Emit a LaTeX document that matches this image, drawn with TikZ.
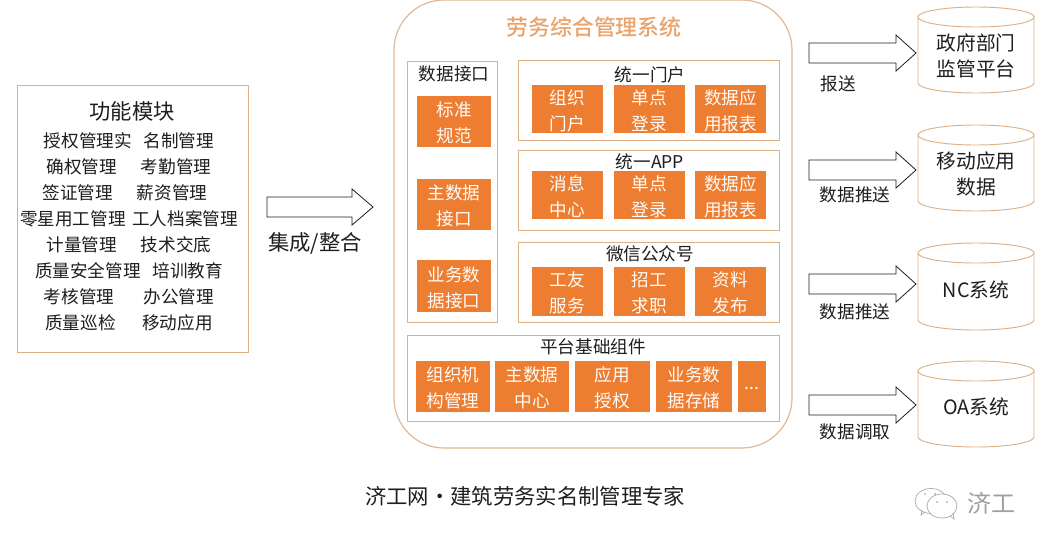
\documentclass[tikz,border=0pt]{standalone}
\usepackage{fontspec}
\setmainfont{Noto Sans CJK SC}[BoldFont=* Medium]
\definecolor{tan}{HTML}{DDB088}
\definecolor{bigtan}{HTML}{E3B994}
\definecolor{org}{HTML}{ED7D31}
\definecolor{ttl}{HTML}{E9A36C}
\definecolor{ink}{HTML}{1E1E1E}
\tikzset{
  x=0.75pt,y=-0.75pt,
  frame/.style={draw=tan,line width=0.6pt,fill=white},
  obox/.style={fill=org,text=white!97!orange,font=\fontsize{13.2}{19.5}\selectfont,align=center,inner sep=0pt},
  txt/.style={text=ink,font=\fontsize{13.2}{19.5}\selectfont,align=center,inner sep=0pt},
  small/.style={text=ink,font=\fontsize{13.2}{18}\selectfont,align=center,inner sep=0pt},
  blockarrow/.style={draw=ink,line width=0.6pt,fill=white},
  can/.style={draw=tan,line width=0.7pt,fill=white},
}
% name x1 y1 x2 y2 text
\newcommand{\obx}[6]{\fill[org] (#2,#3) rectangle (#4,#5);
  \node[obox] (#1) at ({(#2+#4)/2},{(#3+#5)/2+1.5}) {#6};}
\newcommand{\fram}[5]{\draw[frame] (#2,#3) rectangle (#4,#5);
  \coordinate (#1) at ({(#2+#4)/2},{(#3+#5)/2});}
% block arrow: x1 xhead x2 ycenter
\newcommand{\barrow}[4]{\draw[blockarrow] (#1,#4-10) -- (#2,#4-10) -- (#2,#4-18) -- (#3,#4) -- (#2,#4+18) -- (#2,#4+10) -- (#1,#4+10) -- cycle;}
% cylinder: top y, bottom y, name, text y, text
\newcommand{\cann}[5]{\draw[can] (918,#1+10) arc[start angle=180,end angle=0,x radius=58,y radius=10] -- (1034,#2-10) arc[start angle=0,end angle=180,x radius=58,y radius=10] -- cycle;
  \draw[can] (918,#1+10) arc[start angle=180,end angle=360,x radius=58,y radius=10];
  \node[txt,font=\fontsize{14.8}{19.5}\selectfont] (#3) at (976,#4) {#5};}
\begin{document}
\begin{tikzpicture}
\useasboundingbox (0,0) rectangle (1052,550);
% left panel
\fram{leftp}{17}{85}{248}{352}
\node[txt,font=\fontsize{16}{20}\selectfont] (lt) at (132,111.5) {功能模块};
\node[txt] (l1) at (129,141) {授权管理实\hspace{9pt}名制管理};
\node[txt] (l2) at (129,167) {确权管理\hspace{18pt}考勤管理};
\node[txt] (l3) at (125,193) {签证管理\hspace{18pt}薪资管理};
\node[txt] (l4) at (129,219) {零星用工管理\hspace{5pt}工人档案管理};
\node[txt] (l5) at (129,245) {计量管理\hspace{18pt}技术交底};
\node[txt] (l6) at (129,271) {质量安全管理\hspace{9pt}培训教育};
\node[txt] (l7) at (129,297) {考核管理\hspace{22pt}办公管理};
\node[txt] (l8) at (129,323) {质量巡检\hspace{20pt}移动应用};
% big arrow
\barrow{267}{352}{373}{207}
\node[txt,font=\fontsize{16}{19}\selectfont] (jc) at (315,243.5) {集成/整合};
% system
\draw[draw=bigtan,line width=0.9pt,fill=white,rounded corners=37.5pt] (394,0) rectangle (792,448);
\node[txt,text=ttl,font=\bfseries\fontsize{16.4}{20}\selectfont] (sys) at (594,27) {劳务综合管理系统};
% data interface
\fram{di}{407}{61}{497}{322}
\node[txt] (dit) at (454,74) {数据接口};
\obx{a1}{417}{96}{491}{147}{标准\\规范}
\obx{a2}{417}{179}{491}{230}{主数据\\接口}
\obx{a3}{417}{260}{491}{312}{业务数\\据接口}
% portals
\fram{p1}{518}{60}{779}{140}
\fram{p2}{518}{150}{779}{230}
\fram{p3}{518}{242}{779}{322}
\node[small] (p1t) at (650,75) {统一门户};
\node[small] (p2t) at (650,162) {统一APP};
\node[small] (p3t) at (650,254) {微信公众号};
\obx{b1}{532}{85}{603}{133}{组织\\门户}
\obx{b2}{614}{85}{685}{133}{单点\\登录}
\obx{b3}{695}{85}{766}{133}{数据应\\用报表}
\obx{c1}{532}{171}{603}{219}{消息\\中心}
\obx{c2}{614}{171}{685}{219}{单点\\登录}
\obx{c3}{695}{171}{766}{219}{数据应\\用报表}
\obx{d1}{532}{267}{603}{316}{工友\\服务}
\obx{d2}{614}{267}{685}{316}{招工\\求职}
\obx{d3}{695}{267}{766}{316}{资料\\发布}
% platform
\fram{pf}{407}{335}{779}{421}
\node[small] (pft) at (593,347) {平台基础组件};
\obx{e1}{416}{361}{490}{412}{组织机\\构管理}
\obx{e2}{495}{361}{569}{412}{主数据\\中心}
\obx{e3}{575}{361}{650}{412}{应用\\授权}
\obx{e4}{656}{361}{732}{412}{业务数\\据存储}
\obx{e5}{738}{361}{766}{412}{...}
% right arrows
\barrow{809}{896}{916}{53}
\barrow{809}{896}{916}{170}
\barrow{809}{896}{916}{284}
\barrow{809}{896}{916}{405}
\node[small] (r1) at (838,84) {报送};
\node[small] (r2) at (855,195) {数据推送};
\node[small] (r3) at (855,312) {数据推送};
\node[small] (r4) at (855,432) {数据调取};
% cylinders
\cann{7}{93}{k1}{56}{政府部门\\监管平台}
\cann{125}{211}{k2}{174}{移动应用\\数据}
\cann{243}{330}{k3}{290}{NC系统}
\cann{361}{447}{k4}{407}{OA系统}
% caption
\node[txt,font=\fontsize{16}{20}\selectfont] (cap) at (525,496) {济工网·建筑劳务实名制管理专家};
% watermark
\begin{scope}[draw=gray!60,line width=0.6pt,fill=white]
\draw (931,501) ellipse[x radius=16,y radius=12.5];
\draw (925,512) -- (921,515) -- (922,510);
\draw[fill=white] (942,506) ellipse[x radius=15,y radius=12];
\draw (950,516) -- (954,519) -- (953,513);
\fill[gray!70] (925,494) circle (1) (935,494) circle (1) (937,502) circle (1) (947,502) circle (1);
\end{scope}
\node[txt,text=gray!75,font=\fontsize{18}{20}\selectfont] (wm) at (991,503) {济工};
\end{tikzpicture}
\end{document}
